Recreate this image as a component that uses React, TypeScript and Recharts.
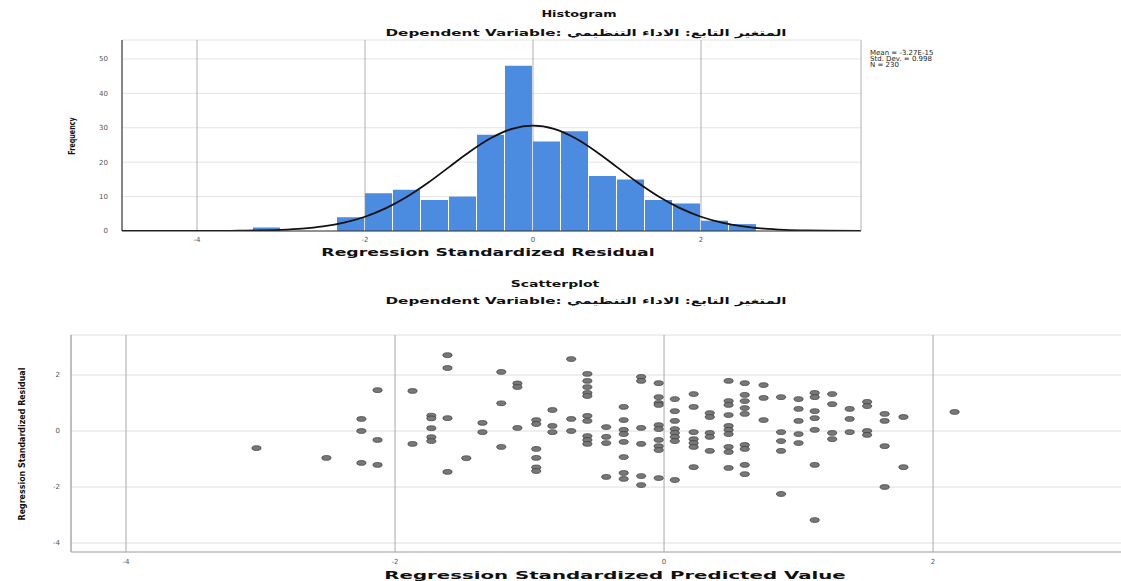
import React from 'react';
import {
  ComposedChart,
  Bar,
  Line,
  ScatterChart,
  Scatter,
  XAxis,
  YAxis,
  CartesianGrid,
} from 'recharts';

// histogram bins (midpoints, width 1/3) and counts
const binMids = [-3.167, -2.167, -1.833, -1.5, -1.167, -0.833, -0.5, -0.167, 0.167, 0.5, 0.833, 1.167, 1.5, 1.833, 2.167, 2.5];
const frequencies = [1, 4, 11, 12, 9, 10, 28, 48, 26, 29, 16, 15, 9, 8, 3, 2];

// normal curve
const curveX = [-4.9, -4.5, -4, -3.5, -3.25, -3, -2.75, -2.5, -2.25, -2, -1.75, -1.5, -1.25, -1, -0.75, -0.5, -0.25, 0, 0.25, 0.5, 0.75, 1, 1.25, 1.5, 1.75, 2, 2.25, 2.5, 2.75, 3, 3.25, 3.5, 3.9];
const curveY = [0, 0, 0.01, 0.07, 0.16, 0.34, 0.69, 1.34, 2.43, 4.14, 6.63, 9.94, 14.0, 18.56, 23.1, 27.0, 29.66, 30.6, 29.66, 27.0, 23.1, 18.56, 14.0, 9.94, 6.63, 4.14, 2.43, 1.34, 0.69, 0.34, 0.16, 0.07, 0.02];

const histXTicks = [-4, -2, 0, 2];
const histYTicks = [0, 10, 20, 30, 40, 50];

// scatterplot: standardized predicted value vs standardized residual
const predicted = [
  -3.03, -2.51, -2.25, -2.25, -2.25, -2.13, -2.13, -2.13, -1.87, -1.87,
  -1.73, -1.73, -1.73, -1.73, -1.73, -1.61, -1.61, -1.61, -1.61, -1.47,
  -1.35, -1.35, -1.21, -1.21, -1.21, -1.09, -1.09, -1.09, -0.95, -0.95,
  -0.95, -0.95, -0.95, -0.95, -0.83, -0.83, -0.83, -0.69, -0.69, -0.69,
  -0.57, -0.57, -0.57, -0.57, -0.57, -0.57, -0.57, -0.57, -0.57, -0.57,
  -0.43, -0.43, -0.43, -0.43, -0.3, -0.3, -0.3, -0.3, -0.3, -0.3,
  -0.3, -0.3, -0.17, -0.17, -0.17, -0.17, -0.17, -0.17, -0.04, -0.04,
  -0.04, -0.04, -0.04, -0.04, -0.04, -0.04, -0.04, -0.04, 0.08, 0.08,
  0.08, 0.08, 0.08, 0.08, 0.08, 0.08, 0.22, 0.22, 0.22, 0.22,
  0.22, 0.22, 0.22, 0.34, 0.34, 0.34, 0.34, 0.34, 0.48, 0.48,
  0.48, 0.48, 0.48, 0.48, 0.48, 0.48, 0.48, 0.48, 0.6, 0.6,
  0.6, 0.6, 0.6, 0.6, 0.6, 0.6, 0.6, 0.74, 0.74, 0.74,
  0.87, 0.87, 0.87, 0.87, 0.87, 1.0, 1.0, 1.0, 1.0, 1.0,
  1.12, 1.12, 1.12, 1.12, 1.12, 1.12, 1.12, 1.25, 1.25, 1.25,
  1.25, 1.38, 1.38, 1.38, 1.51, 1.51, 1.51, 1.51, 1.64, 1.64,
  1.64, 1.64, 1.78, 1.78, 2.16,
];
const residuals = [
  -0.61, -0.96, 0.43, 0.0, -1.14, 1.46, -0.32, -1.21, 1.43, -0.46,
  0.55, 0.45, 0.1, -0.22, -0.36, 2.71, 2.25, 0.46, -1.46, -0.97,
  0.29, -0.04, 2.11, 0.99, -0.57, 1.7, 1.57, 0.11, 0.39, 0.25,
  -0.64, -0.96, -1.3, -1.43, 0.75, 0.18, -0.04, 2.57, 0.43, 0.0,
  2.04, 1.79, 1.57, 1.36, 1.25, 0.54, 0.36, -0.18, -0.32, -0.46,
  0.14, -0.21, -0.43, -1.64, 0.86, 0.39, 0.04, -0.11, -0.39, -0.93,
  -1.5, -1.71, 1.93, 1.79, 0.11, -0.46, -1.61, -1.93, 1.71, 1.21,
  1.0, 0.93, 0.21, 0.07, -0.32, -0.54, -0.68, -1.68, 1.14, 0.71,
  0.36, 0.07, -0.07, -0.21, -0.36, -1.75, 1.32, 0.86, -0.04, -0.29,
  -0.43, -0.57, -1.29, 0.64, 0.5, -0.07, -0.21, -0.71, 1.79, 1.07,
  0.93, 0.57, 0.18, 0.04, -0.11, -0.57, -0.75, -1.32, 1.71, 1.29,
  1.07, 0.82, 0.61, -0.5, -0.64, -1.21, -1.54, 1.64, 1.18, 0.39,
  1.21, -0.04, -0.36, -0.71, -2.25, 1.14, 0.79, 0.36, -0.11, -0.43,
  1.36, 1.21, 0.71, 0.46, 0.04, -1.21, -3.18, 1.32, 0.96, -0.07,
  -0.29, 0.79, 0.43, -0.04, 1.04, 0.89, 0.0, -0.14, 0.61, 0.36,
  -0.54, -2.0, 0.5, -1.29, 0.68,
];

const scatterXTicks = [-4, -2, 0, 2];
const scatterYTicks = [-4, -2, 0, 2];

const histData = binMids.map((mid, i) => ({ mid, count: frequencies[i] }));
const curveData = curveX.map((x, i) => ({ x, density: curveY[i] }));
const scatterData = predicted.map((x, i) => ({ x, y: residuals[i] }));

const tickStyle = { fontSize: 7, fill: '#555', fontFamily: 'DejaVu Sans' };

const Txt = ({ x, y, children, size = 10, sx = 1.35, bold = true, rotate = 0 }: any) => (
  <div
    style={{
      position: 'absolute',
      left: x,
      top: y,
      transform: `translate(-50%, -50%) rotate(${rotate}deg) scaleX(${sx})`,
      whiteSpace: 'nowrap',
      fontFamily: 'DejaVu Sans',
      fontWeight: bold ? 700 : 400,
      fontSize: size,
      color: '#111',
      lineHeight: 1,
    }}
  >
    {children}
  </div>
);

const Ellipse = (props: any) => (
  <ellipse cx={props.cx} cy={props.cy} rx={4.6} ry={2.4} fill="#787878" stroke="#3a3a3a" strokeWidth={0.7} />
);

export default function App() {
  return (
    <div style={{ position: 'absolute', left: 0, top: 0, width: 1121, height: 581, background: '#fff', overflow: 'hidden' }}>
      <div style={{ position: 'absolute', left: 0, top: 0 }}>
        <ComposedChart width={1121} height={265} data={histData} margin={{ top: 40, right: 260, bottom: 0, left: 72 }}>
          <CartesianGrid horizontal vertical={false} stroke="#e4e4e4" />
          <CartesianGrid horizontal={false} vertical stroke="#b0b0b0" />
          <XAxis
            dataKey="mid"
            type="number"
            domain={[-4.893, 3.905]}
            ticks={histXTicks}
            allowDataOverflow
            height={34}
            tick={tickStyle}
            tickSize={0}
            tickMargin={6}
            axisLine={{ stroke: '#333' }}
          />
          <XAxis xAxisId="curve" dataKey="x" type="number" domain={[-4.893, 3.905]} allowDataOverflow hide />
          <YAxis
            type="number"
            domain={[0, 55.5]}
            ticks={histYTicks}
            allowDataOverflow
            width={50}
            tick={tickStyle}
            tickSize={0}
            tickMargin={14}
            axisLine={{ stroke: '#333' }}
          />
          <Bar dataKey="count" fill="#4b8be0" barSize={27} isAnimationActive={false} />
          <Line
            data={curveData}
            xAxisId="curve"
            dataKey="density"
            type="monotone"
            stroke="#111"
            strokeWidth={1.8}
            dot={false}
            isAnimationActive={false}
          />
        </ComposedChart>
      </div>

      <div style={{ position: 'absolute', left: 0, top: 265 }}>
        <ScatterChart width={1121} height={316} margin={{ top: 70, right: -4, bottom: 0, left: 31 }}>
          <CartesianGrid horizontal vertical={false} stroke="#dedede" />
          <CartesianGrid horizontal={false} vertical stroke="#a8a8a8" />
          <XAxis
            dataKey="x"
            type="number"
            domain={[-4.409, 3.427]}
            ticks={scatterXTicks}
            allowDataOverflow
            height={29}
            tick={tickStyle}
            tickSize={0}
            tickMargin={7}
            axisLine={{ stroke: '#aaa' }}
          />
          <YAxis
            dataKey="y"
            type="number"
            domain={[-4.321, 3.429]}
            ticks={scatterYTicks}
            allowDataOverflow
            width={40}
            tick={tickStyle}
            tickSize={0}
            tickMargin={11}
            axisLine={{ stroke: '#aaa' }}
          />
          <Scatter data={scatterData} shape={<Ellipse />} isAnimationActive={false} />
        </ScatterChart>
      </div>

      <Txt x={579} y={14} size={9.5}>Histogram</Txt>
      <Txt x={586} y={33} size={9.5} sx={1.6}>Dependent Variable: المتغير التابع: الاداء التنظيمي</Txt>
      <Txt x={73} y={136} size={8} sx={0.8} rotate={-90}>Frequency</Txt>
      <Txt x={488} y={252} size={11} sx={1.57}>Regression Standardized Residual</Txt>
      <div
        style={{
          position: 'absolute',
          left: 870,
          top: 51,
          fontFamily: 'DejaVu Sans',
          fontSize: 7,
          lineHeight: '5.8px',
          color: '#222',
          whiteSpace: 'nowrap',
        }}
      >
        <div>Mean = -3.27E-15</div>
        <div>Std. Dev. = 0.998</div>
        <div>N = 230</div>
      </div>

      <Txt x={555} y={284} size={9.5} sx={1.47}>Scatterplot</Txt>
      <Txt x={586} y={301} size={9.5} sx={1.6}>Dependent Variable: المتغير التابع: الاداء التنظيمي</Txt>
      <Txt x={22} y={444} size={9} sx={0.88} rotate={-90}>Regression Standardized Residual</Txt>
      <Txt x={615} y={575} size={10.5} sx={1.88}>Regression Standardized Predicted Value</Txt>
    </div>
  );
}
